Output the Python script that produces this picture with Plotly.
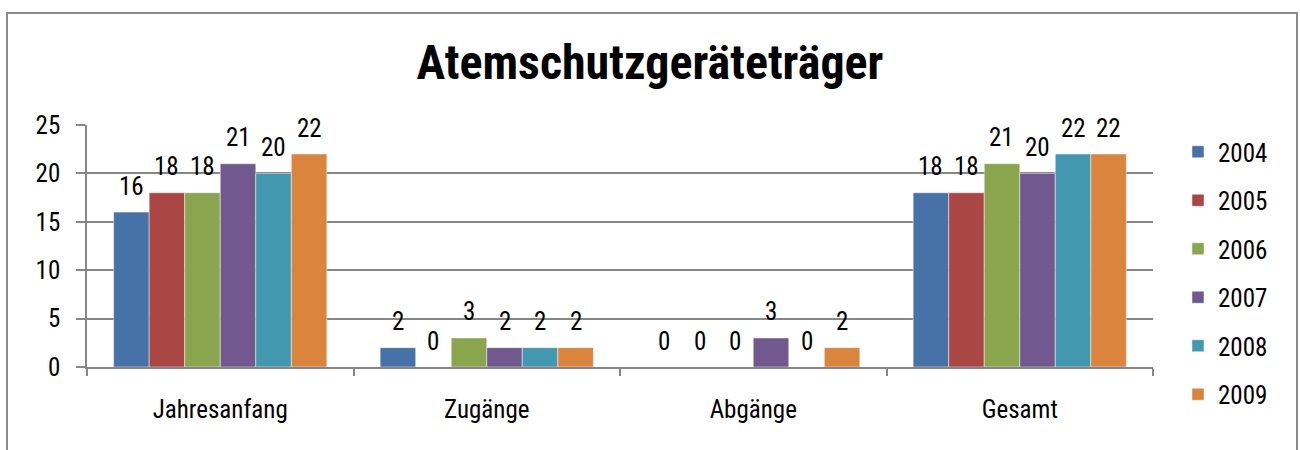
import plotly.graph_objects as go

categories = ["Jahresanfang", "Zugänge", "Abgänge", "Gesamt"]
years = ["2004", "2005", "2006", "2007", "2008", "2009"]
values_2004 = [16, 2, 0, 18]
values_2005 = [18, 0, 0, 18]
values_2006 = [18, 3, 0, 21]
values_2007 = [21, 2, 3, 20]
values_2008 = [20, 2, 0, 22]
values_2009 = [22, 2, 2, 22]
series = [values_2004, values_2005, values_2006, values_2007, values_2008, values_2009]
colors = ["#4672A8", "#AA4644", "#89A54E", "#71588F", "#4198AF", "#DB843D"]
title = "Atemschutzgeräteträger"

FONT = "Liberation Sans Narrow, Arial Narrow, Roboto Condensed, Liberation Sans, sans-serif"
FS = 25

W, H = 1300, 450
L, T = 87, 125
B = H - 367
R = W - 1153
pw = W - L - R
ph = H - T - B
bargap = 0.2
cat_w = pw / len(categories)
bar_w = cat_w * (1 - bargap) / len(years)

fig = go.Figure()
annotations = []
for i, (yr, vals, col) in enumerate(zip(years, series, colors)):
    fig.add_trace(go.Bar(
        name=yr, x=categories, y=vals,
        marker=dict(color=col, line=dict(color="rgba(255,255,255,0.6)", width=0.8)),
        legendgroup=yr,
    ))
    for c, v in zip(categories, vals):
        annotations.append(dict(
            x=c, y=v, xref="x", yref="y", text=str(v), showarrow=False,
            xshift=(i - (len(years) - 1) / 2) * bar_w, yshift=26,
            font=dict(family=FONT, size=FS, color="#000"),
            yanchor="middle", xanchor="center",
        ))

def px_x(p):
    return (p - L) / pw

def px_y(p):
    return (H - B - p) / ph

shapes = [dict(type="rect", xref="paper", yref="paper",
               x0=px_x(7), x1=px_x(1297), y0=px_y(480), y1=px_y(13),
               line=dict(color="#8C8C8C", width=2), fillcolor="rgba(0,0,0,0)", layer="below")]

fig.update_layout(
    width=W, height=H,
    margin=dict(l=L, r=R, t=T, b=B),
    paper_bgcolor="white", plot_bgcolor="white",
    barmode="group", bargap=bargap, bargroupgap=0,
    title=dict(text="<b>" + title + "</b>", x=0.5, xref="container", xanchor="center",
               y=1 - 62 / H, yref="container", yanchor="middle",
               font=dict(family=FONT, size=48, color="#000")),
    font=dict(family=FONT, size=FS, color="#000"),
    xaxis=dict(showline=True, linecolor="#868686", linewidth=1.5,
               ticks="outside", tickson="boundaries", ticklen=7, tickcolor="#868686", tickwidth=1.5,
               ticklabelstandoff=19, tickfont=dict(family=FONT, size=FS, color="#000"),
               showgrid=False),
    yaxis=dict(range=[0, 25], dtick=5, showline=True, linecolor="#868686", linewidth=1.5,
               ticks="outside", ticklen=9, tickcolor="#868686", tickwidth=1.5,
               showgrid=True, gridcolor="#868686", gridwidth=1.5,
               zeroline=False, ticklabelstandoff=11,
               tickfont=dict(family=FONT, size=FS, color="#000")),
    legend=dict(x=px_x(1178), y=px_y(129), xanchor="left", yanchor="top",
                font=dict(family=FONT, size=FS, color="#000"),
                tracegroupgap=13, bgcolor="rgba(0,0,0,0)", maxheight=440),
    showlegend=True,
    annotations=annotations,
    shapes=shapes,
)

fig.write_html("out.html", config={"displayModeBar": False},
               post_script="document.body.style.margin='0';document.body.style.overflow='hidden';")
